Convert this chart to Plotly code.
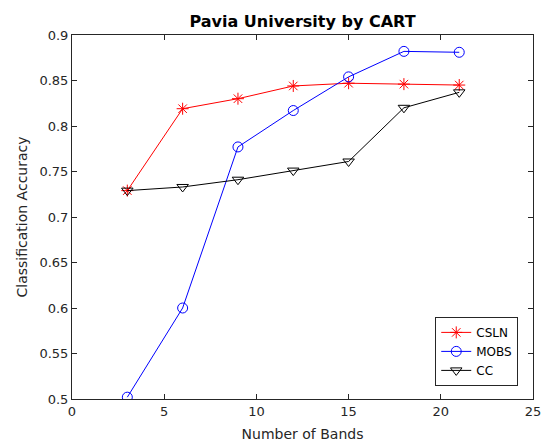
import plotly.graph_objects as go

bands = [3, 6, 9, 12, 15, 18, 21]
csln = [0.729, 0.819, 0.830, 0.844, 0.847, 0.846, 0.845]
mobs = [0.502, 0.600, 0.777, 0.817, 0.854, 0.882, 0.881]
cc = [0.729, 0.733, 0.741, 0.751, 0.761, 0.820, 0.837]

x_ticks = [0, 5, 10, 15, 20, 25]
y_ticks = [0.5, 0.55, 0.6, 0.65, 0.7, 0.75, 0.8, 0.85, 0.9]
y_tick_text = ["0.5", "0.55", "0.6", "0.65", "0.7", "0.75", "0.8", "0.85", "0.9"]

FONT = "DejaVu Sans"
AX = "#262626"

fig = go.Figure()
fig.add_trace(go.Scatter(x=bands, y=csln, name="CSLN", mode="lines+markers",
                         line=dict(color="#ff0000", width=1),
                         marker=dict(symbol="asterisk-open", size=10, color="#ff0000",
                                     line=dict(color="#ff0000", width=1))))
fig.add_trace(go.Scatter(x=bands, y=mobs, name="MOBS", mode="lines+markers",
                         line=dict(color="#0000ff", width=1),
                         marker=dict(symbol="circle-open", size=10, color="#0000ff",
                                     line=dict(color="#0000ff", width=1))))
fig.add_trace(go.Scatter(x=bands, y=cc, name="CC", mode="lines+markers",
                         line=dict(color="#000000", width=1),
                         marker=dict(symbol="triangle-down-open", size=10, color="#000000",
                                     line=dict(color="#000000", width=1))))

axis_common = dict(showgrid=False, zeroline=False, showline=True, linecolor=AX,
                   linewidth=1, mirror="ticks", ticks="inside", ticklen=5,
                   tickcolor=AX, automargin=False,
                   tickfont=dict(family=FONT, size=13, color=AX))

fig.update_layout(
    width=548, height=442,
    margin=dict(l=72, r=15, t=35, b=43),
    paper_bgcolor="white", plot_bgcolor="white",
    title=dict(text="<b>Pavia University by CART</b>", x=0.5, xanchor="center",
               xref="paper", y=1 - 21 / 442, yanchor="middle",
               font=dict(family=FONT, size=16, color="black")),
    xaxis=dict(range=[0, 25], tickvals=x_ticks, ticktext=[str(t) for t in x_ticks],
               title=dict(text="Number of Bands", font=dict(family=FONT, size=14, color=AX),
                          standoff=11), **axis_common),
    yaxis=dict(range=[0.5, 0.9], tickvals=y_ticks, ticktext=y_tick_text,
               title=dict(text="Classification Accuracy", font=dict(family=FONT, size=14, color=AX),
                          standoff=8), **axis_common),
    legend=dict(x=0.968, y=0.036, xanchor="right", yanchor="bottom",
                bgcolor="white", bordercolor=AX, borderwidth=1,
                font=dict(family=FONT, size=12, color="black"),
                tracegroupgap=0, itemwidth=30),
    showlegend=True,
)

fig.write_html("out.html", config={"displayModeBar": False},
               post_script="document.body.style.margin='0';document.body.style.overflow='hidden';")
